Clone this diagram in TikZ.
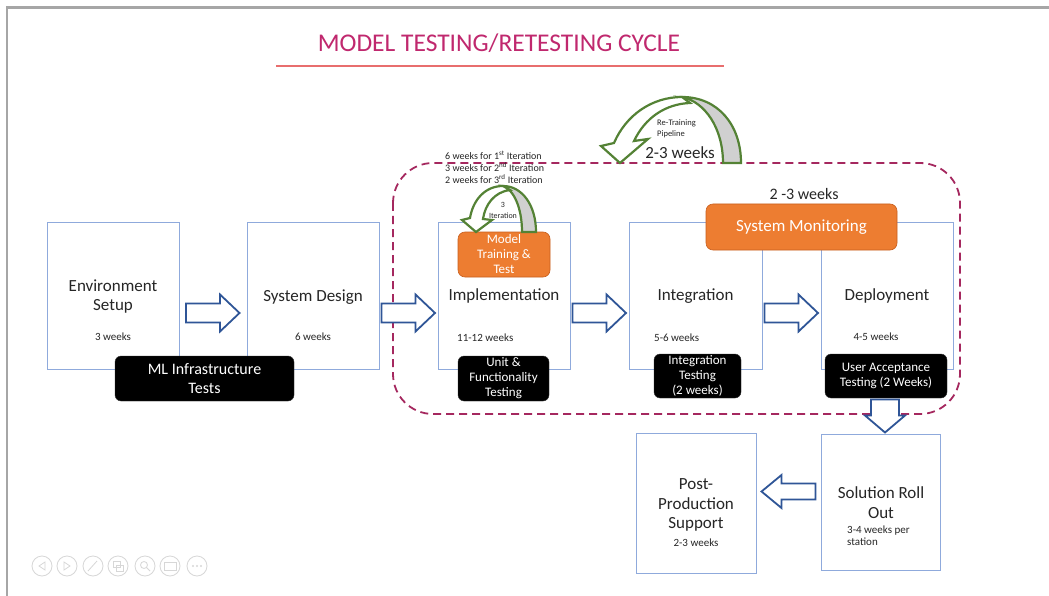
\documentclass[tikz,border=0pt]{standalone}
\usepackage{fontspec}
\setmainfont{Carlito}
\usetikzlibrary{calc}
\definecolor{titlec}{RGB}{192,40,110}
\definecolor{ulinec}{RGB}{232,110,110}
\definecolor{boxc}{RGB}{143,170,220}
\definecolor{arrowc}{RGB}{47,85,151}
\definecolor{greenc}{RGB}{84,130,53}
\definecolor{greyc}{RGB}{208,208,208}
\definecolor{orangec}{RGB}{237,125,49}
\definecolor{orangeb}{RGB}{200,95,30}
\definecolor{dashc}{RGB}{165,40,95}
\definecolor{textc}{RGB}{38,38,38}
\definecolor{framec}{RGB}{166,166,166}
\definecolor{navc}{RGB}{215,215,215}
\tikzset{
  stagebox/.style={draw=boxc, line width=1pt, fill=white, rectangle, inner sep=0pt},
  blackbox/.style={draw=black!80, fill=black, rounded corners=6pt, inner sep=0pt, text=white, align=center, font=\fontsize{13}{15}\selectfont},
  orangebox/.style={draw=orangeb, line width=0.6pt, fill=orangec, rounded corners=7pt, inner sep=0pt, text=white, align=center},
  biglabel/.style={text=textc, align=center, font=\fontsize{17}{19.5}\selectfont, inner sep=0pt},
  smalllabel/.style={text=textc, align=left, font=\fontsize{11}{12}\selectfont, inner sep=0pt},
  tinylabel/.style={text=textc, align=left, font=\fontsize{8.5}{12}\selectfont, inner sep=0pt},
  barrow/.style={draw=arrowc, fill=white, line width=1.8pt, line join=miter},
  garrow/.style={draw=greenc, line width=2.2pt, line join=miter},
}
% block arrows drawn around a named centre coordinate
\newcommand{\rightblock}[1]{\begin{scope}[shift={(#1)}]
  \draw[barrow] (-27,-9.5) -- (7,-9.5) -- (7,-18.5) -- (26.5,0) -- (7,18.5) -- (7,9.5) -- (-27,9.5) -- cycle;
\end{scope}}
\newcommand{\leftblock}[1]{\begin{scope}[shift={(#1)}]
  \draw[barrow] (27,-8) -- (-7,-8) -- (-7,-16.5) -- (-27,0) -- (-7,16.5) -- (-7,8) -- (27,8) -- cycle;
\end{scope}}
\newcommand{\downblock}[1]{\begin{scope}[shift={(#1)}]
  \draw[barrow] (-14,-17) -- (-14,-1) -- (-20,-1) -- (0,16) -- (20,-1) -- (14,-1) -- (14,-17) -- cycle;
\end{scope}}
\begin{document}
\begin{tikzpicture}[x=1pt,y=-1pt]
\useasboundingbox (0,0) rectangle (1049,596);
\fill[white] (0,0) rectangle (1049,596);
% screenshot frame
\draw[framec, line width=2.5pt] (7,596) -- (7,7.5) -- (1049,7.5);

% title
\node[text=titlec, font=\fontsize{25.5}{28}\selectfont, inner sep=0pt] (title) at (499,43) {MODEL TESTING/RETESTING CYCLE};
\coordinate (ulA) at (276,66);
\coordinate (ulB) at (724,66);
\draw[ulinec, line width=1.2pt] (ulA) -- (ulB);

% dashed cycle region
\draw[dashc, line width=1.8pt, dash pattern=on 8pt off 5pt, rounded corners=40pt] (393,163) rectangle (960,414);

% stage boxes
\node[stagebox, minimum width=132pt, minimum height=147pt] (env) at (113,295.5) {};
\node[stagebox, minimum width=132pt, minimum height=147pt] (sd) at (313,295.5) {};
\node[stagebox, minimum width=132pt, minimum height=147pt] (impl) at (504,295.5) {};
\node[stagebox, minimum width=133pt, minimum height=147pt] (integ) at (695.5,295.5) {};
\node[stagebox, minimum width=132pt, minimum height=147pt] (dep) at (887,295.5) {};
\node[stagebox, minimum width=119pt, minimum height=136pt] (sro) at (880.5,502) {};
\node[stagebox, minimum width=120pt, minimum height=140pt] (pps) at (696,503) {};

% stage labels
\node[biglabel] (envL) at (113,296.5) {Environment\\Setup};
\node[smalllabel] (envW) at (113,337) {3 weeks};
\node[biglabel] (sdL) at (313,297) {System Design};
\node[smalllabel] (sdW) at (313,337) {6 weeks};
\node[biglabel] (implL) at (504,296) {Implementation};
\node[smalllabel, anchor=west] (implW) at (457,338) {11-12 weeks};
\node[biglabel] (integL) at (695.5,296) {Integration};
\node[smalllabel, anchor=west] (integW) at (654,338) {5-6 weeks};
\node[biglabel] (depL) at (887,296) {Deployment};
\node[smalllabel] (depW) at (876,337) {4-5 weeks};
\node[biglabel] (sroL) at (881,502.5) {Solution Roll\\Out};
\node[smalllabel, anchor=north west] (sroW) at (847,526) {3-4 weeks per\\station};
\node[biglabel] (ppsL) at (696,505) {Post-\\Production\\Support};
\node[smalllabel] (ppsW) at (696,543) {2-3 weeks};

% black test boxes
\node[blackbox, minimum width=179pt, minimum height=45pt, font=\fontsize{16}{19}\selectfont] (ml) at (204.5,378.5) {ML Infrastructure\\Tests};
\node[blackbox, minimum width=91pt, minimum height=45pt] (unit) at (503.5,378.5) {Unit \&\\Functionality\\Testing};
\node[blackbox, minimum width=87pt, minimum height=44pt] (itest) at (697.5,376) {Integration\\Testing\\(2 weeks)};
\node[blackbox, minimum width=122pt, minimum height=44pt] (uat) at (886,376) {User Acceptance\\Testing (2 Weeks)};

% orange boxes
\node[orangebox, minimum width=92pt, minimum height=45pt, font=\fontsize{13}{15}\selectfont] (mtt) at (504,254.5) {Model\\Training \&\\Test};
\node[orangebox, minimum width=191pt, minimum height=46pt, font=\fontsize{17}{19}\selectfont] (sm) at (801.5,227) {System Monitoring};

% block arrows
\coordinate (a1) at ($(env.east)!0.5!(sd.west)+(0,17.5)$);
\coordinate (a2) at ($(sd.east)!0.5!(impl.west)+(0,17.5)$);
\coordinate (a3) at ($(impl.east)!0.5!(integ.west)+(0,17.5)$);
\coordinate (a4) at ($(integ.east)!0.5!(dep.west)+(0,17.5)$);
\coordinate (a5) at ($(sro.north)+(4.5,-17)$);
\coordinate (a6) at ($(pps.east)!0.5!(sro.west)+(0,-11)$);
\rightblock{a1}
\rightblock{a2}
\rightblock{a3}
\rightblock{a4}
\downblock{a5}
\leftblock{a6}

% cycle duration text
\node[text=textc, font=\fontsize{16}{18}\selectfont, inner sep=0pt] (cyc) at (804,194) {2 -3 weeks};

% big re-training curved arrow
\draw[garrow, fill=greyc] (723,163) -- (741,163) .. controls (741,125) and (718,97) .. (682,97) .. controls (705,102) and (723,128) .. (723,163) -- cycle;
\draw[garrow, fill=white] (682,97) .. controls (652,97) and (626,115) .. (614,143) -- (601,146) -- (620,163) -- (648,139) -- (634,141) .. controls (645,118) and (665,104) .. (690,103) -- cycle;
\node[tinylabel, font=\fontsize{8.5}{11.5}\selectfont, anchor=north west] (rtp) at (657,119) {Re-Training\\Pipeline};
\node[text=textc, font=\fontsize{17}{19}\selectfont, inner sep=0pt] (rtw) at (680,153) {2-3 weeks};

% small iteration curved arrow
\draw[garrow, fill=greyc] (522,232) -- (536,232) .. controls (536,205) and (522,186) .. (503,186) .. controls (514,190) and (522,208) .. (522,232) -- cycle;
\draw[garrow, fill=white] (503,186) .. controls (485,186) and (473,200) .. (470,218) -- (462,220) -- (476,232) -- (492,220) -- (483,219) .. controls (485,205) and (494,192) .. (510,190) -- cycle;
\node[text=textc, font=\fontsize{8}{10.5}\selectfont, align=center, inner sep=0pt] (iter) at (503,210.5) {3\\Iteration};

% iteration notes
\node[tinylabel, font=\fontsize{10}{12}\selectfont, anchor=north west] (notes) at (445,151) {6 weeks for 1\textsuperscript{st} Iteration\\3 weeks for 2\textsuperscript{nd} Iteration\\2 weeks for 3\textsuperscript{rd} Iteration};

% slide-show navigation icons
\foreach \i/\x in {1/42,2/67,3/93,4/118,5/145,6/170,7/197}{
  \node[draw=navc, line width=0.8pt, circle, minimum size=20pt, inner sep=0pt] (nav\i) at (\x,566) {};
}
\draw[navc, line width=0.8pt] (45,562) -- (39,566) -- (45,570) -- cycle;
\draw[navc, line width=0.8pt] (64,562) -- (70,566) -- (64,570) -- cycle;
\draw[navc, line width=0.8pt] (88,571) -- (97,561);
\draw[navc, line width=0.8pt] (113,561) rectangle (120,567) (116,565) rectangle (123,571);
\draw[navc, line width=0.8pt] (144,565) circle (3.5pt) (146.5,567.5) -- (150,571);
\draw[navc, line width=0.8pt] (164,562) rectangle (176,570);
\fill[navc] (193,566) circle (1.2pt) (197,566) circle (1.2pt) (201,566) circle (1.2pt);
\end{tikzpicture}
\end{document}
